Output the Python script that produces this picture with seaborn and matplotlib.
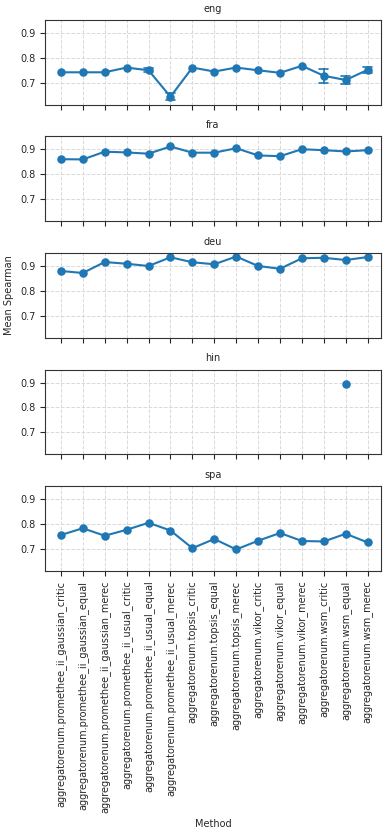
import numpy as np
import pandas as pd
import matplotlib
matplotlib.use('Agg')
import matplotlib.pyplot as plt
import seaborn as sns

#### DATA

methods = ['aggregatorenum.promethee_ii_gaussian_critic',
           'aggregatorenum.promethee_ii_gaussian_equal',
           'aggregatorenum.promethee_ii_gaussian_merec',
           'aggregatorenum.promethee_ii_usual_critic',
           'aggregatorenum.promethee_ii_usual_equal',
           'aggregatorenum.promethee_ii_usual_merec',
           'aggregatorenum.topsis_critic',
           'aggregatorenum.topsis_equal',
           'aggregatorenum.topsis_merec',
           'aggregatorenum.vikor_critic',
           'aggregatorenum.vikor_equal',
           'aggregatorenum.vikor_merec',
           'aggregatorenum.wsm_critic',
           'aggregatorenum.wsm_equal',
           'aggregatorenum.wsm_merec']

langs = ['eng', 'fra', 'deu', 'hin', 'spa']

mean_eng = [0.742, 0.742, 0.742, 0.761, 0.750, 0.644, 0.761, 0.745, 0.761, 0.750, 0.740, 0.768, 0.728, 0.711, 0.752]
err_eng  = [0.0, 0.0, 0.0, 0.0, 0.008, 0.014, 0.0, 0.0, 0.0, 0.0, 0.0, 0.0, 0.028, 0.017, 0.012]

mean_fra = [0.861, 0.860, 0.891, 0.888, 0.883, 0.912, 0.887, 0.887, 0.905, 0.876, 0.873, 0.901, 0.897, 0.892, 0.897]
mean_deu = [0.880, 0.872, 0.916, 0.909, 0.900, 0.935, 0.915, 0.907, 0.938, 0.900, 0.889, 0.931, 0.933, 0.924, 0.936]
mean_hin = [np.nan] * 13 + [0.896, np.nan]
mean_spa = [0.756, 0.783, 0.753, 0.777, 0.805, 0.774, 0.703, 0.740, 0.698, 0.733, 0.764, 0.732, 0.730, 0.761, 0.726]

zeros = [0.0] * len(methods)
means = {'eng': mean_eng, 'fra': mean_fra, 'deu': mean_deu, 'hin': mean_hin, 'spa': mean_spa}
errs = {'eng': err_eng, 'fra': zeros, 'deu': zeros, 'hin': zeros, 'spa': zeros}

# long table: two runs per method (low / high end of spread)
rows = []
for lang in langs:
    for m, mu, e in zip(methods, means[lang], errs[lang]):
        if np.isnan(mu):
            continue
        rows.append({'Language': lang, 'Method': m, 'Mean Spearman': mu - e})
        rows.append({'Language': lang, 'Method': m, 'Mean Spearman': mu + e})
df = pd.DataFrame(rows)


def spread(v):
    if v.max() > v.min():
        return (v.min(), v.max())
    return (np.nan, np.nan)


#### PLOT

sns.set_style('ticks')
plt.rcParams['font.family'] = ['DejaVu Sans']
plt.rcParams['font.size'] = 7

fig, axes = plt.subplots(5, 1, figsize=(3.89, 8.31), dpi=100, sharex=True, sharey=True)
fig.subplots_adjust(left=0.116, right=0.979, top=0.976, bottom=0.313, hspace=0.375)

for ax, lang in zip(axes, langs):
    sub = df[df['Language'] == lang]
    sns.pointplot(data=sub, x='Method', y='Mean Spearman', order=methods, ax=ax,
                  color='C0', errorbar=spread, capsize=0.4, markersize=5,
                  linewidth=1.5, err_kws={'linewidth': 1.2})
    ax.set_title(lang, fontsize=7)
    ax.grid(True, linestyle='--', color='#d9d9d9', linewidth=0.7)
    ax.set_axisbelow(True)
    ax.set_xlabel('')
    ax.set_ylabel('')
    ax.tick_params(axis='both', labelsize=7, length=3.5, width=0.8)
    for sp in ax.spines.values():
        sp.set_linewidth(0.8)
        sp.set_color('#333333')

axes[0].set_xlim(-0.72, 14.6)
axes[0].set_ylim(0.612, 0.952)
axes[0].set_yticks([0.7, 0.8, 0.9])
axes[2].set_ylabel('Mean Spearman', fontsize=7)
axes[-1].set_xlabel('Method', fontsize=7)
axes[-1].tick_params(axis='x', labelrotation=90)

plt.savefig('out.png', dpi=100)
